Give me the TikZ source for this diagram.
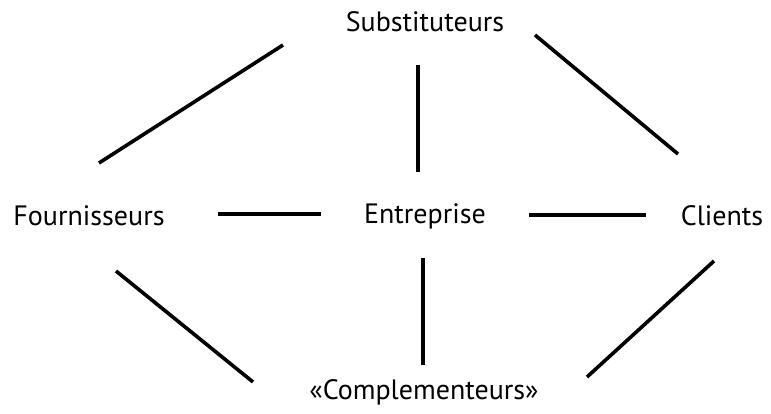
\documentclass[tikz,border=0pt]{standalone}
\usepackage{fontspec}
\setmainfont{PT Sans}
\begin{document}
\begin{tikzpicture}[x=1pt,y=-1pt,
  lbl/.style={font=\fontsize{28}{32}\selectfont, inner sep=0pt},
  conn/.style={line width=3.6pt, line cap=butt}]
\useasboundingbox (0,0) rectangle (771,414);
\node[lbl] (sub) at (425,22) {Substituteurs};
\node[lbl] (four) at (89,216) {Fournisseurs};
\node[lbl] (ent) at (425,216) {Entreprise};
\node[lbl] (cli) at (722,216) {Clients};
\node[lbl] (comp) at (424,392) {«Complementeurs»};
\coordinate (a1) at (283,45);  \coordinate (b1) at (99,163);
\coordinate (a2) at (418,65);  \coordinate (b2) at (418,172);
\coordinate (a3) at (535,35);  \coordinate (b3) at (678,154);
\coordinate (a4) at (218,214); \coordinate (b4) at (321,214);
\coordinate (a5) at (529,215); \coordinate (b5) at (646,215);
\coordinate (a6) at (116,271); \coordinate (b6) at (253,382);
\coordinate (a7) at (423,258); \coordinate (b7) at (423,365);
\coordinate (a8) at (714,261); \coordinate (b8) at (587,377);
\foreach \i in {1,...,8} {\draw[conn] (a\i) -- (b\i);}
\end{tikzpicture}
\end{document}
